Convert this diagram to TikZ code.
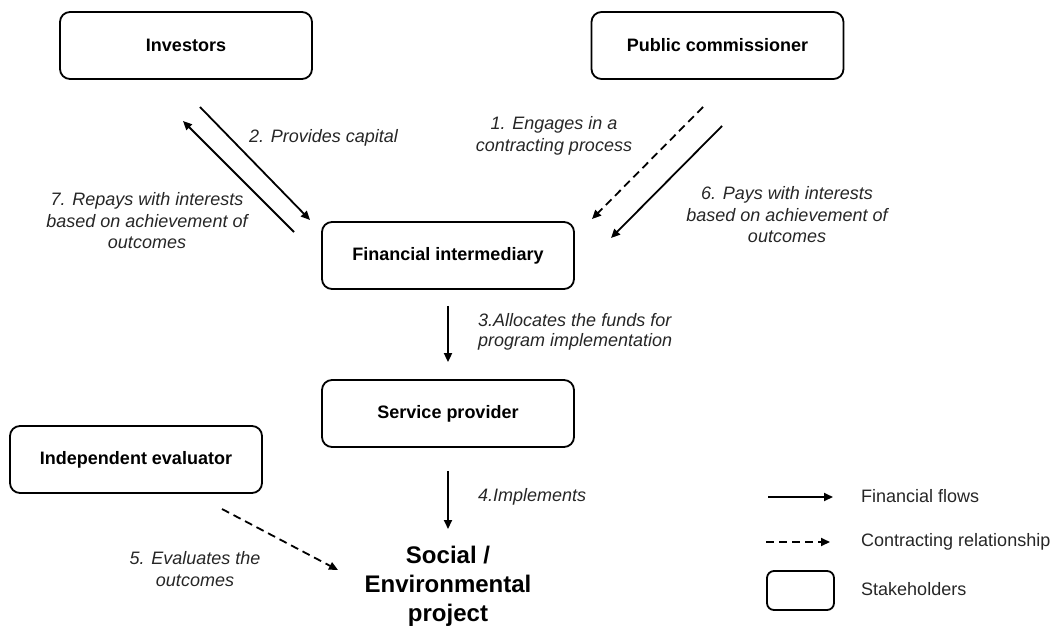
\documentclass[tikz,border=0pt]{standalone}
\usepackage{fontspec}
\setmainfont{Liberation Sans}
\usetikzlibrary{arrows.meta}
\begin{document}
\begin{tikzpicture}[x=1pt,y=-1pt,
  stake/.style={draw, line width=1.8pt, rounded corners=10pt, minimum width=252pt, minimum height=67pt,
    font=\fontsize{18}{21.5}\selectfont\bfseries, inner sep=0pt},
  lbl/.style={font=\fontsize{18}{21.5}\selectfont\itshape, align=center, inner sep=0pt, text=black!85},
  legtext/.style={font=\fontsize{18}{21.5}\selectfont, anchor=west, inner sep=0pt, text=black!85},
  flow/.style={line width=1.8pt, -{Triangle[length=9pt,width=8pt]}},
  contract/.style={flow, dash pattern=on 8pt off 5pt}
]
\useasboundingbox (0,0) rectangle (1056,626);

% stakeholders
\node[stake] (inv) at (186,45.5) {Investors};
\node[stake] (pc)  at (717.5,45.5) {Public commissioner};
\node[stake] (fi)  at (448,255.5) {Financial intermediary};
\node[stake] (sp)  at (448,413.5) {Service provider};
\node[stake] (ie)  at (136,459.5) {Independent evaluator};
\node[font=\fontsize{24}{29}\selectfont\bfseries, align=center, inner sep=0pt] (proj) at (448,586) {Social /\\Environmental\\project};

% connector end points
\coordinate (a2s) at (200,107);  \coordinate (a2e) at (310,220);
\coordinate (a7s) at (294,232);  \coordinate (a7e) at (183,121);
\coordinate (a1s) at (703,107);  \coordinate (a1e) at (592,219);
\coordinate (a6s) at (722,126);  \coordinate (a6e) at (611,238);
\coordinate (a5s) at (222,509);  \coordinate (a5e) at (338,570);

% connectors
\draw[flow] (a2s) -- (a2e);
\draw[flow] (a7s) -- (a7e);
\draw[contract] (a1s) -- (a1e);
\draw[flow] (a6s) -- (a6e);
\draw[flow, shorten <=16pt, shorten >=17pt] (fi.south) -- (sp.north);
\draw[flow, shorten <=23pt] (sp.south) -- (448,529) coordinate (a4e);
\draw[contract] (a5s) -- (a5e);

% labels
\node[lbl, anchor=west] (l2) at (249,138) {2. Provides capital};
\node[lbl] (l7) at (147,221) {7. Repays with interests\\based on achievement of\\outcomes};
\node[lbl] (l1) at (554,136) {1. Engages in a\\contracting process};
\node[lbl] (l6) at (787,215) {6. Pays with interests\\based on achievement of\\outcomes};
\node[lbl, align=left, anchor=west, font=\fontsize{18}{20}\selectfont\itshape] (l3) at (478,332) {3.Allocates the funds for\\program implementation};
\node[lbl, anchor=west] (l4) at (478,497) {4.Implements};
\node[lbl] (l5) at (195,569) {5. Evaluates the\\outcomes};

% legend
\coordinate (lf1) at (768,497); \coordinate (lf2) at (833,497);
\draw[flow] (lf1) -- (lf2);
\node[legtext] (lt1) at (861,496) {Financial flows};
\coordinate (lc1) at (766,542); \coordinate (lc2) at (830,542);
\draw[contract] (lc1) -- (lc2);
\node[legtext] (lt2) at (861,542) {Contracting relationship};
\node[draw, line width=1.8pt, rounded corners=7pt, minimum width=67pt, minimum height=39pt, inner sep=0pt] (lbox) at (800.5,590.5) {};
\node[legtext] (lt3) at (861,589) {Stakeholders};
\end{tikzpicture}
\end{document}
